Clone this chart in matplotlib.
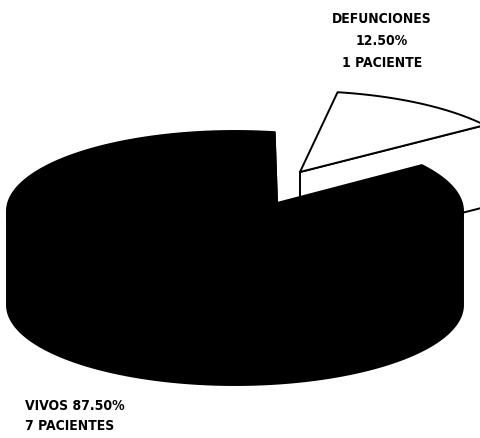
import numpy as np
import matplotlib.pyplot as plt
from matplotlib.patches import Polygon

# Datos del grafico
etiquetas = ['VIVOS', 'DEFUNCIONES']
pacientes = [7, 1]
colores = ['black', 'white']

# Geometria (pixeles) de cada rebanada: centro de la elipse, apice, radios y grosor
geom = [
    dict(c=(235, 212), apex=(277, 204), a=228, b=80, h=94),
    dict(c=(298, 172), apex=(300, 173), a=228, b=80, h=82),
]
angulo_inicio = 80

fig = plt.figure(figsize=(4.8, 4.39), dpi=100)
ax = fig.add_axes([0, 0, 1, 1])
ax.set_xlim(0, 480)
ax.set_ylim(439, 0)
ax.axis('off')


def rim(g, th):
    th = np.radians(th)
    return np.column_stack([g['c'][0] + g['a'] * np.cos(th), g['c'][1] - g['b'] * np.sin(th)])


def rebanada(g, t0, t1, color):
    h = g['h']
    apex = np.array(g['apex'], dtype=float)
    down = np.array([0, h])
    # caras radiales visibles
    for t, n in [(t0, t0 - 90), (t1, t1 + 90)]:
        if np.sin(np.radians(n)) < 0:
            p = rim(g, [t])[0]
            quad = [apex, p, p + down, apex + down]
            ax.add_patch(Polygon(quad, closed=True, fc=color, ec='black', lw=1.4, joinstyle='round'))
    # pared exterior (parte frontal)
    ts = np.linspace(t0, t1, 400)
    front = ts[np.sin(np.radians(ts)) < 0]
    if len(front) > 1:
        top = rim(g, front)
        wall = np.vstack([top, (top + down)[::-1]])
        ax.add_patch(Polygon(wall, closed=True, fc=color, ec='black', lw=1.4))
    # cara superior
    arc = rim(g, ts)
    ax.add_patch(Polygon(np.vstack([apex, arc]), closed=True, fc=color, ec='black', lw=1.4,
                         joinstyle='round'))


total = sum(pacientes)
angulos = []
t = angulo_inicio
for p in pacientes:
    ang = 360 * p / total
    angulos.append((t, t + ang))
    t += ang

# dibujar primero la rebanada de atras (separada), luego la grande
for i in [1, 0]:
    rebanada(geom[i], angulos[i][0], angulos[i][1], colores[i])

fuente = dict(family=['DejaVu Sans'], fontweight='bold',
              fontstretch='condensed', fontsize=10, color='black')

pct = [100 * p / total for p in pacientes]
ax.text(382, 41, f'{etiquetas[1]}\n{pct[1]:.2f}%\n{pacientes[1]} PACIENTE',
        ha='center', va='center', linespacing=1.75, **fuente)
ax.text(25, 416, f'{etiquetas[0]} {pct[0]:.2f}%\n{pacientes[0]} PACIENTES',
        ha='left', va='center', linespacing=1.55, **fuente)

fig.savefig('out.png', dpi=100)
